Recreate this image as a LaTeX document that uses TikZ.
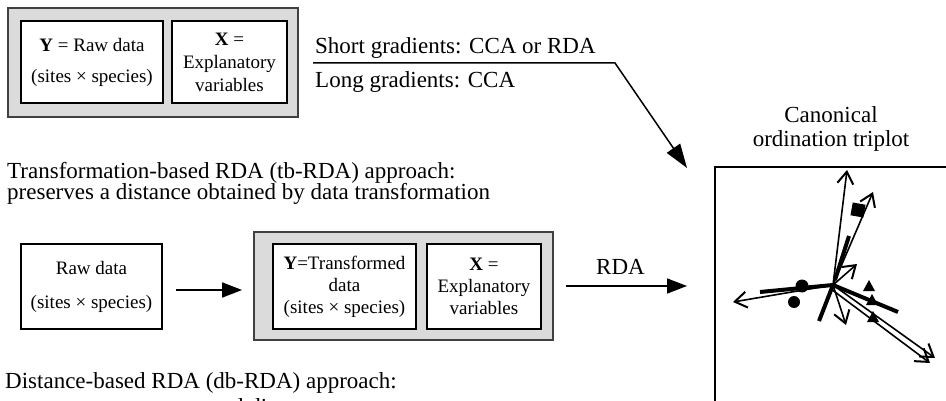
\documentclass[tikz,border=0pt]{standalone}
\usepackage{fontspec}
\setmainfont{Liberation Serif}
\usetikzlibrary{arrows.meta}

\newcommand{\bigtext}{\fontsize{23}{24}\selectfont}
\newcommand{\boxtext}{\fontsize{19}{22}\selectfont}

\tikzset{
    databox/.style={draw, line width=1.6pt, fill=white, inner sep=0pt, align=center, font=\boxtext},
    groupbox/.style={draw=black!75, line width=1.8pt, fill=black!14, inner sep=0pt},
    label/.style={anchor=base west, inner sep=0pt, font=\bigtext},
    flow/.style={line width=1.6pt, -{Triangle[length=20pt,width=15pt]}},
    vec/.style={line width=1.6pt, -{Straight Barb[length=12pt,width=16pt,line width=2pt]}},
    bar/.style={line width=4pt}
}

\begin{document}
\begin{tikzpicture}[x={(1pt,0)}, y={(0,-1pt)}]
        \useasboundingbox (0,0) rectangle (946,401);
        \clip (0,0) rectangle (946,401);

        % direct approach
        \node[groupbox, minimum width=290, minimum height=109] (grp1) at (153,62.5) {};
        \node[databox, minimum width=142, minimum height=82] (yraw) at (92,62)
            {\textbf{Y} = Raw data\\[9pt](sites × species)};
        \node[databox, minimum width=115, minimum height=82] (xexp1) at (229.5,62)
            {\textbf{X} =\\[1pt]Explanatory\\[1pt]variables};

        \node[label] (short) at (315,54) {Short gradients: CCA or RDA};
        \node[label] (long) at (315,88) {Long gradients: CCA};
        \coordinate (gradl) at (313,63);
        \coordinate (gradbend) at (615,63);
        \coordinate (gradtip) at (687,168);
        \draw[line width=1.5pt, -{Triangle[length=24pt,width=16pt]}] (gradl) -- (gradbend) -- (gradtip);

        % tb-RDA
        \node[label] (tbhead) at (7,179) {Transformation-based RDA (tb-RDA) approach:};
        \node[label] (tbsub) at (7,200) {preserves a distance obtained by data transformation};

        \node[databox, minimum width=141, minimum height=85] (raw) at (91.5,286.5)
            {Raw data\\[12pt](sites × species)};
        \node[groupbox, minimum width=299, minimum height=108] (grp2) at (403.5,286) {};
        \node[databox, minimum width=143, minimum height=85] (ytrans) at (344.5,286.5)
            {\textbf{Y}=Transformed\\data\\(sites × species)};
        \node[databox, minimum width=114, minimum height=85] (xexp2) at (484,286.5)
            {\textbf{X} =\\Explanatory\\variables};

        \draw[flow, shorten <=13pt, shorten >=11pt] ([yshift=-3.5pt]raw.east) -- ([yshift=-3.5pt]raw.east -| grp2.west);
        \coordinate (rdatip) at (687,286);
        \draw[flow, shorten <=12pt] (grp2.east) -- (rdatip)
            node[midway, above=7pt, font=\bigtext] (rda) {RDA};

        % db-RDA
        \node[label] (dbhead) at (5,388) {Distance-based RDA (db-RDA) approach:};
        \node[label] (dbsub) at (7,414) {preserves a pre-computed distance};

        % triplot
        \node[align=center, font=\bigtext] (title) at (831,129) {Canonical\\ordination triplot};
        \draw[line width=2pt] (715,430) -- (715,167) -- (960,167);

        \coordinate (o) at (833,285);
        \draw[bar] (835,280) -- (849,236);
        \draw[bar] (o) -- (819,321);
        \draw[bar] (o) -- (898,312);
        \draw[bar] (o) -- (760,292);
        \foreach \a/\b in {847/170, 873/192, 857/264, 846/325, 733/302, 935/358}
            \draw[vec] (o) -- (\a,\b);
        \draw[vec] (831,289) -- (930,363);

        \fill (802,286) circle (6.5);
        \fill (794,302) circle (6);
        \fill[rotate around={-10:(858,210)}] (851.5,203.5) rectangle (864.5,216.5);
        \fill (869,280) -- (875,291) -- (863,291) -- cycle;
        \fill (872,294) -- (878,305) -- (866,305) -- cycle;
        \fill (873,311) -- (879,322) -- (867,322) -- cycle;
\end{tikzpicture}
\end{document}
